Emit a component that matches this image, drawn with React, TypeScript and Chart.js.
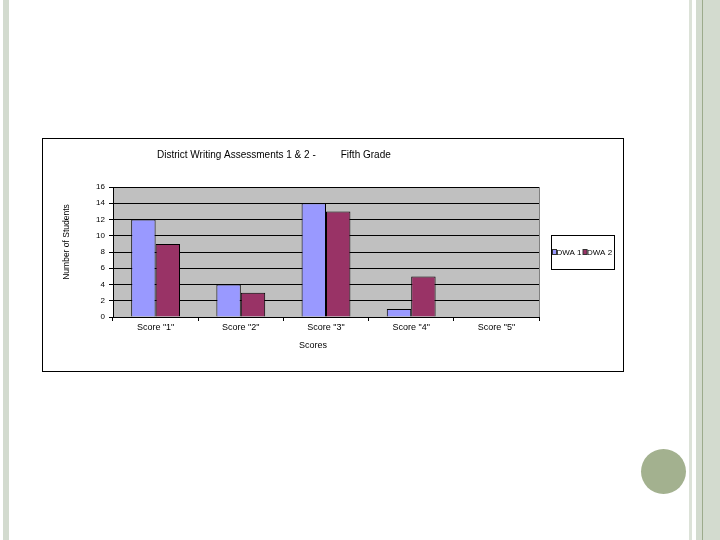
import { useEffect, useRef } from 'react'
import { Chart, registerables } from 'chart.js'
import type { Plugin } from 'chart.js'

Chart.register(...registerables)

const FONT = "'Liberation Sans', Arial, sans-serif"

const categories = ['Score "1"', 'Score "2"', 'Score "3"', 'Score "4"', 'Score "5"']
const dwa1 = [12, 4, 14, 1, 0]
const dwa2 = [9, 3, 13, 5, 0]
const seriesLabels = ['DWA 1', 'DWA 2']
const seriesColors = ['#9999ff', '#993366']
const yMin = 0
const yMax = 16
const yStep = 2

const chartTitle = 'District Writing Assessments 1 & 2 -         Fifth Grade'
const xTitle = 'Scores'
const yTitle = 'Number of Students'

// excel-ish frame: grey plot area, title, axis titles and boxed legend
const excelFrame: Plugin<'bar'> = {
  id: 'excelFrame',
  beforeDraw(chart) {
    const { ctx, chartArea: a } = chart
    ctx.save()
    ctx.fillStyle = '#c0c0c0'
    ctx.fillRect(a.left, a.top, a.right - a.left, a.bottom - a.top)
    ctx.restore()
  },
  afterDraw(chart) {
    const { ctx, chartArea: a } = chart
    ctx.save()
    // right edge of plot
    ctx.strokeStyle = '#808080'
    ctx.lineWidth = 1
    ctx.beginPath()
    ctx.moveTo(Math.round(a.right) + 0.5, a.top)
    ctx.lineTo(Math.round(a.right) + 0.5, a.bottom)
    ctx.stroke()

    ctx.fillStyle = '#000'
    ctx.textBaseline = 'middle'

    ctx.font = `10px ${FONT}`
    ctx.textAlign = 'left'
    ctx.fillText(chartTitle, a.left + 44, 16)

    ctx.font = `9px ${FONT}`
    ctx.textAlign = 'center'
    ctx.fillText(xTitle, a.left + 200, 207)

    ctx.save()
    ctx.font = `8.5px ${FONT}`
    ctx.translate(24, 103)
    ctx.rotate(-Math.PI / 2)
    ctx.fillText(yTitle, 0, 0)
    ctx.restore()

    // legend box
    const bx = a.right + 12
    const by = 96
    const bw = 63
    const bh = 34
    ctx.fillStyle = '#fff'
    ctx.fillRect(bx, by, bw, bh)
    ctx.strokeStyle = '#000'
    ctx.strokeRect(bx + 0.5, by + 0.5, bw, bh)

    const cy = by + bh / 2
    let x = bx + 1.5
    ctx.font = `8px ${FONT}`
    ctx.textAlign = 'left'
    chart.data.datasets.forEach((ds) => {
      ctx.fillStyle = ds.backgroundColor as string
      ctx.fillRect(x, cy - 2.5, 4, 5)
      ctx.strokeStyle = '#333'
      ctx.strokeRect(x, cy - 2.5, 4, 5)
      ctx.fillStyle = '#000'
      const tx = x + 4
      ctx.fillText(ds.label as string, tx, cy + 0.5)
      x = tx + ctx.measureText(ds.label as string).width + 1.5
    })
    ctx.restore()
  },
}

function DwaChart() {
  const ref = useRef<HTMLCanvasElement>(null)

  useEffect(() => {
    if (!ref.current) return
    const chart = new Chart(ref.current, {
      type: 'bar',
      data: {
        labels: categories,
        datasets: [
          { label: seriesLabels[0], data: dwa1, backgroundColor: seriesColors[0], borderColor: '#000', borderWidth: 1 },
          { label: seriesLabels[1], data: dwa2, backgroundColor: seriesColors[1], borderColor: '#000', borderWidth: 1 },
        ],
      },
      options: {
        animation: false,
        responsive: false,
        layout: { padding: { left: 0, right: 84, top: 48, bottom: 0 } },
        datasets: { bar: { categoryPercentage: 0.573, barPercentage: 1 } },
        plugins: { legend: { display: false }, tooltip: { enabled: false }, title: { display: false } },
        scales: {
          x: {
            afterFit: (s) => { s.height = 54 },
            grid: { display: true, drawOnChartArea: false, drawTicks: true, tickLength: 4, color: '#000', offset: true },
            border: { display: true, color: '#000', width: 1 },
            ticks: { color: '#000', padding: 1, maxRotation: 0, autoSkip: false, font: { family: FONT, size: 9 } },
          },
          y: {
            min: yMin,
            max: yMax,
            afterFit: (s) => { s.width = 70 },
            grid: { color: '#000', lineWidth: 1, drawTicks: true, tickLength: 4 },
            border: { display: true, color: '#000', width: 1 },
            ticks: { stepSize: yStep, color: '#000', padding: 4, font: { family: FONT, size: 8 } },
          },
        },
      },
      plugins: [excelFrame],
    })
    return () => chart.destroy()
  }, [])

  return <canvas ref={ref} width={580} height={232} style={{ width: 580, height: 232, display: 'block' }} />
}

export default function App() {
  return (
    <div style={{ position: 'fixed', left: 0, top: 0, width: 720, height: 540, background: '#fff', overflow: 'hidden' }}>
      {/* slide decoration */}
      <div style={{ position: 'absolute', left: 3, top: 0, width: 6, height: 540, background: '#d3dbcf' }} />
      <div style={{ position: 'absolute', left: 689, top: 0, width: 3, height: 540, background: '#dce2d8' }} />
      <div style={{ position: 'absolute', left: 696, top: 0, width: 6, height: 540, background: '#d3dbcf' }} />
      <div style={{ position: 'absolute', left: 702, top: 0, width: 1, height: 540, background: '#9cab8c' }} />
      <div style={{ position: 'absolute', left: 703, top: 0, width: 17, height: 540, background: '#d3dbcf' }} />
      <div style={{ position: 'absolute', left: 641, top: 449, width: 45, height: 45, borderRadius: '50%', background: '#a3b18f' }} />

      <div style={{ position: 'absolute', left: 42, top: 138, width: 582, height: 234, border: '1px solid #000', boxSizing: 'border-box', background: '#fff' }}>
        <DwaChart />
      </div>
    </div>
  )
}
